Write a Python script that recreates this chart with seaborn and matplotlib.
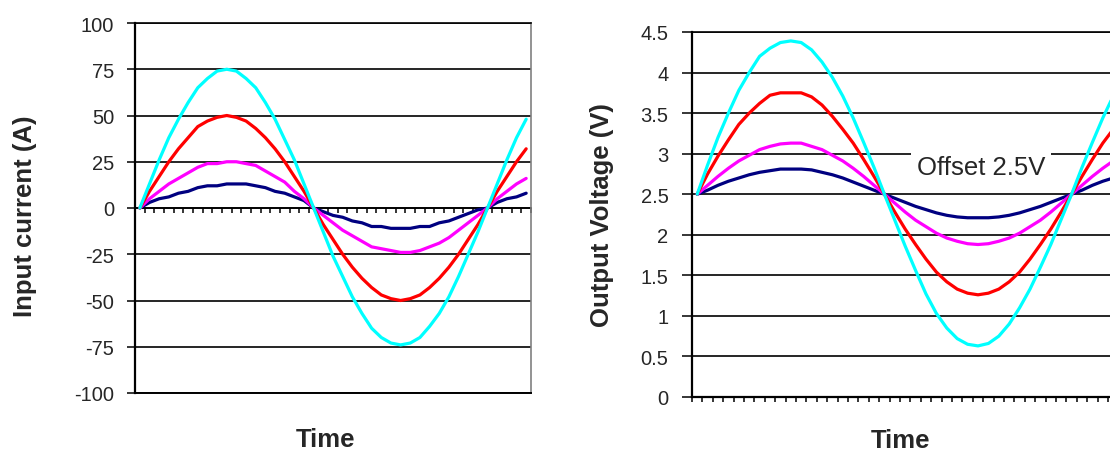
import numpy as np
import pandas as pd
import matplotlib
matplotlib.use("Agg")
import matplotlib.pyplot as plt
import seaborn as sns
from matplotlib.ticker import FormatStrFormatter

# ---------------- data ----------------
samples = list(range(41))
series_order = ["navy", "magenta", "red", "cyan"]
series_colors = {"navy": "#000080", "magenta": "#FF00FF", "red": "#FF0000", "cyan": "#00FFFF"}

current_cyan = [0, 13, 26, 38, 48, 57, 65, 70, 74, 75, 74, 70, 65, 57, 48, 37, 26, 13, 0,
                -13, -26, -37, -48, -57, -65, -70, -73, -74, -73, -70, -64, -57, -48, -37, -25, -13, 0,
                13, 26, 38, 48]
current_red = [0, 9, 17, 25, 32, 38, 44, 47, 49, 50, 49, 47, 43, 38, 32, 25, 17, 9, 0,
               -9, -17, -25, -32, -38, -43, -47, -49, -50, -49, -47, -43, -38, -32, -25, -17, -9, 0,
               9, 17, 25, 32]
current_magenta = [0, 5, 9, 13, 16, 19, 22, 24, 24, 25, 25, 24, 23, 20, 17, 14, 9, 5, 0,
                   -4, -8, -12, -15, -18, -21, -22, -23, -24, -24, -23, -21, -19, -16, -12, -8, -4, 0,
                   5, 9, 13, 16]
current_navy = [0, 3, 5, 6, 8, 9, 11, 12, 12, 13, 13, 13, 12, 11, 9, 8, 6, 4, 0,
                -2, -4, -5, -7, -8, -10, -10, -11, -11, -11, -10, -10, -8, -7, -5, -3, -1, 0,
                3, 5, 6, 8]

voltage_cyan = [2.50, 2.86, 3.20, 3.50, 3.78, 4.00, 4.20, 4.30, 4.37, 4.39, 4.37, 4.28, 4.13, 3.94, 3.71, 3.44, 3.14, 2.83, 2.50,
                2.18, 1.86, 1.56, 1.27, 1.03, 0.85, 0.72, 0.65, 0.63, 0.66, 0.75, 0.90, 1.10, 1.33, 1.60, 1.88, 2.19, 2.50,
                2.83, 3.14, 3.44, 3.71]
voltage_red = [2.50, 2.75, 2.97, 3.17, 3.36, 3.50, 3.62, 3.72, 3.75, 3.75, 3.75, 3.70, 3.60, 3.46, 3.30, 3.13, 2.93, 2.72, 2.50,
               2.28, 2.07, 1.88, 1.70, 1.54, 1.42, 1.33, 1.28, 1.26, 1.28, 1.33, 1.42, 1.54, 1.70, 1.88, 2.07, 2.28, 2.50,
               2.72, 2.93, 3.13, 3.30]
voltage_magenta = [2.50, 2.61, 2.72, 2.82, 2.91, 2.98, 3.05, 3.09, 3.12, 3.13, 3.13, 3.09, 3.05, 2.98, 2.91, 2.82, 2.72, 2.61, 2.50,
                   2.39, 2.28, 2.18, 2.10, 2.02, 1.96, 1.92, 1.89, 1.88, 1.89, 1.92, 1.96, 2.02, 2.10, 2.18, 2.28, 2.39, 2.50,
                   2.61, 2.72, 2.82, 2.91]
voltage_navy = [2.50, 2.55, 2.61, 2.66, 2.70, 2.74, 2.77, 2.79, 2.81, 2.81, 2.81, 2.80, 2.77, 2.74, 2.70, 2.65, 2.60, 2.55, 2.50,
                2.45, 2.40, 2.35, 2.31, 2.27, 2.24, 2.22, 2.21, 2.21, 2.21, 2.22, 2.24, 2.27, 2.31, 2.35, 2.40, 2.45, 2.50,
                2.55, 2.61, 2.66, 2.70]

current_ticks = [-100, -75, -50, -25, 0, 25, 50, 75, 100]
voltage_ticks = [0, 0.5, 1, 1.5, 2, 2.5, 3, 3.5, 4, 4.5]

current_series = {"navy": current_navy, "magenta": current_magenta, "red": current_red, "cyan": current_cyan}
voltage_series = {"navy": voltage_navy, "magenta": voltage_magenta, "red": voltage_red, "cyan": voltage_cyan}


def long_frame(series):
    rows = []
    for name in series_order:
        for t, v in zip(samples, series[name]):
            rows.append({"Time": t, "value": v, "series": name})
    return pd.DataFrame(rows)


df_current = long_frame(current_series)
df_voltage = long_frame(voltage_series)

# ---------------- style ----------------
sns.set_style("white")
plt.rcParams["font.family"] = ["Liberation Sans", "DejaVu Sans"]
plt.rcParams["axes.unicode_minus"] = False

W, H = 1110, 452
fig = plt.figure(figsize=(W / 100, H / 100), dpi=100)
axL = fig.add_axes([135 / W, (H - 394) / H, 396 / W, 370 / H])
axR = fig.add_axes([692 / W, (H - 398) / H, 426.4 / W, 365 / H])

TICK_FS = 14.5
LABEL_FS = 18.5

for ax, df in ((axL, df_current), (axR, df_voltage)):
    sns.lineplot(data=df, x="Time", y="value", hue="series", hue_order=series_order,
                 palette=series_colors, linewidth=2.3, estimator=None, sort=False,
                 legend=False, ax=ax, solid_joinstyle="round", solid_capstyle="round")
    ax.set_xlim(-0.5, 40.5)
    ax.grid(axis="y", color="black", linewidth=1.2)
    ax.grid(axis="x", visible=False)
    ax.set_axisbelow(True)

# ----- left chart -----
axL.set_ylim(-100, 100)
axL.set_yticks(current_ticks)
axL.set_yticklabels([str(v) for v in current_ticks])
axL.tick_params(axis="y", direction="out", length=6, width=1.1, pad=9,
                labelsize=TICK_FS, color="black", left=True)
axL.set_xticks([])
for side in ("top", "bottom", "left"):
    axL.spines[side].set_color("black")
axL.spines["left"].set_linewidth(1.6)
axL.spines["top"].set_linewidth(1.2)
axL.spines["bottom"].set_linewidth(1.4)
axL.spines["right"].set_color("#808080")
axL.spines["right"].set_linewidth(1.2)

try:
    sec = axL.secondary_xaxis(0, transform=axL.transData)
except TypeError:
    sec = axL.secondary_xaxis(0.4999)
sec.set_xticks(np.arange(-0.5, 41, 1.0))
sec.tick_params(axis="x", direction="out", length=3.5, width=1.1, color="black",
                labelbottom=False, labeltop=False)
for s in sec.spines.values():
    s.set_color("black")
    s.set_linewidth(1.2)

axL.set_xlabel("Time", fontsize=LABEL_FS, fontweight="bold")
axL.xaxis.set_label_coords(0.48, -0.1432)
axL.xaxis.label.set_va("baseline")
axL.set_ylabel("Input current (A)", fontsize=LABEL_FS, fontweight="bold")
axL.yaxis.set_label_coords(-0.278, 0.481)
axL.yaxis.label.set_va("center")

# ----- right chart -----
axR.set_ylim(0, 4.5)
axR.set_yticks(voltage_ticks)
axR.yaxis.set_major_formatter(FormatStrFormatter("%g"))
axR.tick_params(axis="y", direction="out", length=7, width=1.1, pad=10,
                labelsize=TICK_FS, color="black", left=True)
axR.set_xticks(np.arange(-0.5, 41, 1.0))
axR.tick_params(axis="x", direction="out", length=3.5, width=1.1, color="black",
                bottom=True, labelbottom=False)
axR.spines["left"].set_color("black")
axR.spines["left"].set_linewidth(1.6)
axR.spines["bottom"].set_color("black")
axR.spines["bottom"].set_linewidth(1.6)
axR.spines["top"].set_color("black")
axR.spines["top"].set_linewidth(1.2)
axR.spines["right"].set_visible(False)

axR.set_xlabel("Time", fontsize=LABEL_FS, fontweight="bold")
axR.xaxis.set_label_coords(0.490, -0.136)
axR.xaxis.label.set_va("baseline")
axR.set_ylabel("Output Voltage (V)", fontsize=LABEL_FS, fontweight="bold")
axR.yaxis.set_label_coords(-0.211, 0.501)
axR.yaxis.label.set_va("center")

axR.text(27.3, 2.84, "Offset 2.5V", fontsize=LABEL_FS, ha="center", va="center",
         bbox=dict(facecolor="white", edgecolor="none", pad=4), zorder=5)

fig.savefig("out.png", dpi=100)
